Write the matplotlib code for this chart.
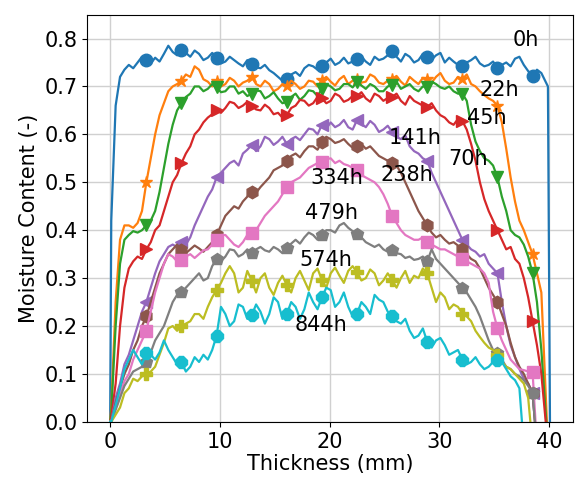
import matplotlib
matplotlib.use('Agg')
import matplotlib.pyplot as plt

# sampling positions across the board (mm): two edge points, a 0.4 mm grid, two edge points
thickness = [0.0, 0.1] + [round(0.5 + 0.4 * i, 1) for i in range(98)] + [39.9, 40.1]

mc_0h = [0.0, 0.42, 0.66,
         0.72, 0.735, 0.745, 0.738, 0.75, 0.762, 0.755, 0.748,
         0.76, 0.752, 0.768, 0.785, 0.772, 0.765, 0.776, 0.77,
         0.762, 0.775, 0.768, 0.755, 0.76, 0.77, 0.76, 0.748,
         0.752, 0.762, 0.755, 0.748, 0.742, 0.755, 0.746, 0.74,
         0.738, 0.745, 0.734, 0.728, 0.72, 0.712, 0.715, 0.725,
         0.73, 0.722, 0.738, 0.745, 0.742, 0.735, 0.742, 0.75,
         0.758, 0.745, 0.75, 0.76, 0.748, 0.752, 0.758, 0.762,
         0.752, 0.745, 0.762, 0.755, 0.758, 0.765, 0.775, 0.762,
         0.752, 0.768, 0.762, 0.75, 0.755, 0.768, 0.762, 0.756,
         0.765, 0.77, 0.75, 0.76, 0.752, 0.745, 0.742, 0.75,
         0.755, 0.762, 0.748, 0.742, 0.745, 0.752, 0.738, 0.745,
         0.75, 0.742, 0.758, 0.762, 0.745, 0.732, 0.722, 0.735,
         0.728, 0.70, -0.05]
mc_22h = [0.0, 0.03, 0.25,
          0.38, 0.41, 0.41, 0.405, 0.415, 0.44, 0.50, 0.55,
          0.60, 0.64, 0.665, 0.69, 0.70, 0.705, 0.712, 0.725,
          0.72, 0.742, 0.735, 0.715, 0.71, 0.70, 0.712, 0.70,
          0.705, 0.718, 0.712, 0.70, 0.708, 0.712, 0.72, 0.705,
          0.70, 0.712, 0.705, 0.69, 0.695, 0.705, 0.70, 0.712,
          0.705, 0.695, 0.70, 0.712, 0.71, 0.70, 0.713, 0.72,
          0.71, 0.702, 0.715, 0.722, 0.705, 0.712, 0.715, 0.708,
          0.71, 0.725, 0.72, 0.708, 0.705, 0.712, 0.715, 0.722,
          0.71, 0.702, 0.72, 0.712, 0.705, 0.718, 0.715, 0.708,
          0.72, 0.728, 0.712, 0.705, 0.708, 0.72, 0.715, 0.725,
          0.705, 0.70, 0.69, 0.682, 0.675, 0.67, 0.66, 0.625,
          0.57, 0.51, 0.46, 0.42, 0.40, 0.375, 0.35, 0.31,
          0.27, -0.05, -0.05]
mc_45h = [0.0, 0.02, 0.2,
          0.33, 0.38, 0.39, 0.398, 0.395, 0.40, 0.41, 0.42,
          0.44, 0.48, 0.53, 0.58, 0.62, 0.65, 0.665, 0.678,
          0.685, 0.70, 0.70, 0.69, 0.695, 0.705, 0.698, 0.688,
          0.69, 0.70, 0.70, 0.685, 0.69, 0.68, 0.685, 0.692,
          0.69, 0.675, 0.68, 0.688, 0.675, 0.665, 0.668, 0.678,
          0.685, 0.672, 0.68, 0.692, 0.69, 0.68, 0.695, 0.705,
          0.70, 0.692, 0.695, 0.705, 0.705, 0.698, 0.71, 0.702,
          0.695, 0.705, 0.70, 0.69, 0.69, 0.70, 0.703, 0.71,
          0.695, 0.70, 0.705, 0.695, 0.69, 0.70, 0.698, 0.71,
          0.705, 0.698, 0.695, 0.70, 0.69, 0.685, 0.685, 0.67,
          0.62, 0.585, 0.565, 0.55, 0.545, 0.535, 0.51, 0.47,
          0.44, 0.40, 0.39, 0.385, 0.37, 0.345, 0.31, 0.25,
          0.15, -0.05, -0.05]
mc_70h = [0.0, 0.01, 0.08,
          0.20, 0.28, 0.32, 0.335, 0.345, 0.34, 0.36, 0.375,
          0.40, 0.41, 0.44, 0.47, 0.50, 0.515, 0.54, 0.56,
          0.575, 0.60, 0.61, 0.625, 0.635, 0.642, 0.65, 0.645,
          0.655, 0.668, 0.665, 0.655, 0.66, 0.668, 0.66, 0.652,
          0.65, 0.662, 0.655, 0.642, 0.645, 0.635, 0.64, 0.655,
          0.66, 0.672, 0.67, 0.66, 0.665, 0.678, 0.675, 0.665,
          0.67, 0.685, 0.68, 0.668, 0.672, 0.68, 0.68, 0.688,
          0.675, 0.668, 0.685, 0.68, 0.67, 0.676, 0.678, 0.685,
          0.67, 0.662, 0.68, 0.67, 0.665, 0.66, 0.657, 0.665,
          0.65, 0.64, 0.635, 0.625, 0.62, 0.632, 0.628, 0.61,
          0.58, 0.545, 0.50, 0.465, 0.44, 0.42, 0.40, 0.38,
          0.36, 0.365, 0.34, 0.33, 0.30, 0.26, 0.21, 0.16,
          0.10, -0.05, -0.05]
mc_141h = [0.0, 0.0, 0.05,
           0.08, 0.12, 0.14, 0.17, 0.20, 0.23, 0.25, 0.28,
           0.31, 0.335, 0.35, 0.365, 0.37, 0.365, 0.375, 0.37,
           0.385, 0.41, 0.43, 0.45, 0.47, 0.485, 0.51, 0.52,
           0.53, 0.54, 0.545, 0.535, 0.56, 0.568, 0.578, 0.565,
           0.575, 0.595, 0.59, 0.578, 0.585, 0.595, 0.58, 0.59,
           0.595, 0.588, 0.60, 0.612, 0.61, 0.60, 0.62, 0.612,
           0.625, 0.615, 0.62, 0.63, 0.615, 0.61, 0.63, 0.622,
           0.615, 0.628, 0.62, 0.605, 0.61, 0.618, 0.605, 0.595,
           0.59, 0.598, 0.575, 0.565, 0.56, 0.55, 0.545, 0.52,
           0.50, 0.48, 0.46, 0.44, 0.42, 0.40, 0.38, 0.37,
           0.36, 0.355, 0.345, 0.35, 0.33, 0.32, 0.31, 0.25,
           0.20, 0.16, 0.135, 0.11, 0.09, 0.08, 0.06, -0.05,
           -0.05, -0.05, -0.05]
mc_238h = [0.0, 0.0, 0.04,
           0.07, 0.10, 0.12, 0.15, 0.17, 0.20, 0.22, 0.25,
           0.28, 0.31, 0.33, 0.35, 0.36, 0.37, 0.358, 0.352,
           0.36, 0.368, 0.362, 0.355, 0.365, 0.375, 0.39, 0.41,
           0.43, 0.44, 0.45, 0.445, 0.46, 0.47, 0.48, 0.478,
           0.49, 0.50, 0.51, 0.525, 0.53, 0.535, 0.545, 0.555,
           0.56, 0.552, 0.565, 0.575, 0.575, 0.568, 0.585, 0.595,
           0.59, 0.582, 0.585, 0.59, 0.58, 0.572, 0.575, 0.58,
           0.57, 0.575, 0.565, 0.555, 0.55, 0.545, 0.54, 0.535,
           0.52, 0.50, 0.48, 0.46, 0.44, 0.425, 0.41, 0.395,
           0.385, 0.39, 0.38, 0.372, 0.375, 0.368, 0.36, 0.35,
           0.34, 0.335, 0.32, 0.30, 0.28, 0.265, 0.25, 0.225,
           0.20, 0.165, 0.135, 0.115, 0.10, 0.08, 0.06, -0.05,
           -0.05, -0.05, -0.05]
mc_334h = [0.0, 0.0, 0.03,
           0.06, 0.085, 0.10, 0.13, 0.15, 0.17, 0.19, 0.23,
           0.27, 0.30, 0.33, 0.35, 0.345, 0.335, 0.337, 0.345,
           0.35, 0.342, 0.35, 0.358, 0.36, 0.37, 0.38, 0.39,
           0.39, 0.38, 0.37, 0.365, 0.375, 0.39, 0.395, 0.40,
           0.415, 0.43, 0.44, 0.45, 0.46, 0.475, 0.49, 0.50,
           0.505, 0.51, 0.52, 0.53, 0.535, 0.54, 0.542, 0.548,
           0.55, 0.54, 0.545, 0.538, 0.535, 0.53, 0.525, 0.515,
           0.51, 0.505, 0.50, 0.49, 0.475, 0.455, 0.43, 0.415,
           0.40, 0.39, 0.385, 0.38, 0.38, 0.385, 0.375, 0.37,
           0.365, 0.36, 0.36, 0.355, 0.35, 0.345, 0.34, 0.335,
           0.33, 0.325, 0.32, 0.31, 0.29, 0.23, 0.195, 0.17,
           0.15, 0.13, 0.12, 0.11, 0.108, 0.105, 0.104, -0.05,
           -0.05, -0.05, -0.05]
mc_479h = [0.0, 0.0, 0.025,
           0.05, 0.075, 0.09, 0.105, 0.11, 0.115, 0.125, 0.145,
           0.17, 0.185, 0.20, 0.225, 0.25, 0.265, 0.27, 0.28,
           0.29, 0.30, 0.31, 0.295, 0.30, 0.325, 0.34, 0.335,
           0.345, 0.36, 0.358, 0.345, 0.35, 0.36, 0.352, 0.36,
           0.365, 0.358, 0.355, 0.365, 0.36, 0.352, 0.362, 0.372,
           0.38, 0.372, 0.385, 0.395, 0.39, 0.38, 0.39, 0.40,
           0.40, 0.395, 0.41, 0.415, 0.405, 0.398, 0.393, 0.385,
           0.375, 0.37, 0.365, 0.37, 0.36, 0.355, 0.358, 0.352,
           0.35, 0.342, 0.345, 0.338, 0.34, 0.345, 0.335, 0.36,
           0.34, 0.33, 0.32, 0.31, 0.30, 0.29, 0.28, 0.27,
           0.255, 0.24, 0.22, 0.195, 0.17, 0.15, 0.143, 0.13,
           0.115, 0.11, 0.10, 0.095, 0.087, 0.075, 0.06, -0.05,
           -0.05, -0.05, -0.05]
mc_574h = [0.0, 0.0, 0.015,
           0.03, 0.06, 0.07, 0.09, 0.085, 0.095, 0.10, 0.105,
           0.115, 0.14, 0.165, 0.195, 0.20, 0.19, 0.20, 0.205,
           0.21, 0.225, 0.225, 0.215, 0.24, 0.26, 0.275, 0.29,
           0.31, 0.325, 0.31, 0.27, 0.28, 0.315, 0.295, 0.27,
           0.30, 0.31, 0.28, 0.265, 0.29, 0.305, 0.285, 0.27,
           0.30, 0.315, 0.295, 0.275, 0.31, 0.32, 0.296, 0.28,
           0.31, 0.322, 0.305, 0.29, 0.315, 0.325, 0.312, 0.295,
           0.30, 0.318, 0.31, 0.285, 0.295, 0.31, 0.296, 0.28,
           0.30, 0.315, 0.29, 0.305, 0.30, 0.32, 0.31, 0.28,
           0.25, 0.27, 0.26, 0.235, 0.245, 0.24, 0.226, 0.22,
           0.21, 0.19, 0.177, 0.165, 0.155, 0.15, 0.14, 0.125,
           0.115, 0.11, 0.10, 0.09, 0.08, 0.05, -0.05, -0.05,
           -0.05, -0.05, -0.05]
mc_844h = [0.0, 0.0, 0.035,
           0.07, 0.11, 0.13, 0.15, 0.135, 0.12, 0.143, 0.14,
           0.13, 0.145, 0.17, 0.15, 0.135, 0.12, 0.125, 0.105,
           0.115, 0.135, 0.125, 0.14, 0.13, 0.15, 0.18, 0.24,
           0.225, 0.20, 0.21, 0.245, 0.24, 0.215, 0.222, 0.245,
           0.23, 0.205, 0.225, 0.26, 0.25, 0.215, 0.225, 0.25,
           0.24, 0.215, 0.235, 0.27, 0.25, 0.235, 0.26, 0.28,
           0.275, 0.24, 0.25, 0.27, 0.24, 0.22, 0.226, 0.25,
           0.24, 0.225, 0.265, 0.255, 0.25, 0.23, 0.22, 0.21,
           0.205, 0.215, 0.19, 0.175, 0.18, 0.195, 0.167, 0.155,
           0.17, 0.175, 0.16, 0.14, 0.145, 0.15, 0.13, 0.12,
           0.125, 0.135, 0.12, 0.11, 0.115, 0.125, 0.13, 0.125,
           0.11, 0.095, 0.087, 0.07, -0.05, -0.05, -0.05, -0.05,
           -0.05, -0.05, -0.05]

profiles = [mc_0h, mc_22h, mc_45h, mc_70h, mc_141h, mc_238h, mc_334h, mc_479h, mc_574h, mc_844h]
labels = ['0h', '22h', '45h', '70h', '141h', '238h', '334h', '479h', '574h', '844h']
label_x = [37.9, 35.5, 34.3, 32.6, 27.8, 27.0, 20.7, 20.2, 19.7, 19.2]
label_y = [0.797, 0.692, 0.634, 0.548, 0.592, 0.515, 0.508, 0.436, 0.337, 0.202]
markers = ['o', '*', 'v', '>', '<', 'h', 's', 'p', 'P', '8']

plt.rcParams['font.size'] = 15

fig = plt.figure(figsize=(5.83, 4.86), dpi=100)
ax = fig.add_axes([0.150, 0.132, 0.832, 0.837])

for mc, m in zip(profiles, markers):
    ax.plot(thickness, mc, marker=m, markersize=9, markevery=slice(9, 98, 8), linewidth=1.6)

for lab, lx, ly in zip(labels, label_x, label_y):
    ax.text(lx, ly, lab, ha='center', va='center', fontsize=15)

ax.set_xlim(-2.07, 42.14)
ax.set_ylim(0, 0.849)
ax.set_xticks([0, 10, 20, 30, 40])
ax.set_yticks([0.0, 0.1, 0.2, 0.3, 0.4, 0.5, 0.6, 0.7, 0.8])
ax.grid(True, color='#d0d0d0', linewidth=1)
ax.set_axisbelow(True)
ax.set_xlabel('Thickness (mm)', labelpad=2)
ax.set_ylabel('Moisture Content (-)')

fig.savefig('out.png', dpi=100)
